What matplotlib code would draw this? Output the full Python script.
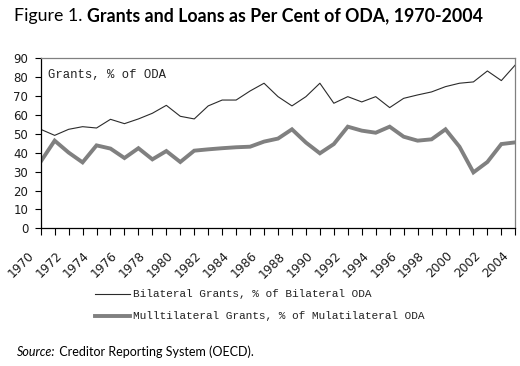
import matplotlib
matplotlib.use("Agg")
import matplotlib.pyplot as plt
import matplotlib.transforms as mtransforms
from matplotlib.lines import Line2D

years = list(range(1970, 2005))
bilateral = [52.4, 49.2, 52.4, 53.8, 53.1, 57.7, 55.4, 57.9, 60.9, 65.1,
             59.3, 57.9, 64.8, 67.9, 67.9, 72.7, 76.8, 69.7, 64.8, 69.7,
             76.8, 66.2, 69.7, 66.9, 69.7, 63.9, 68.8, 70.6, 72.2, 75.0,
             76.8, 77.5, 83.3, 78.2, 86.5]
multilateral = [35.3, 46.4, 40.1, 34.9, 43.9, 42.2, 37.2, 42.4, 36.5, 40.9,
                35.1, 41.1, 41.8, 42.4, 42.9, 43.2, 45.9, 47.5, 52.4, 45.4,
                39.7, 44.6, 53.8, 51.7, 50.6, 53.8, 48.5, 46.4, 47.1, 52.4,
                43.2, 29.6, 35.1, 44.6, 45.5]
yticks = list(range(0, 91, 10))
label_years = years[::2]
label_bi = "Bilateral Grants, % of Bilateral ODA"
label_multi = "Mulltilateral Grants, % of Mulatilateral ODA"
inner_label = "Grants, % of ODA"
title_a = "Figure 1. "
title_b = "Grants and Loans as Per Cent of ODA, 1970-2004"
source_a = "Source:"
source_b = " Creditor Reporting System (OECD)."

W, H = 520, 366
fig = plt.figure(figsize=(W / 100, H / 100), dpi=100)
ax = fig.add_axes([40.7 / W, 1 - 228.3 / H, (515.3 - 40.7) / W, (228.3 - 58.3) / H])

mono = "Liberation Mono"
sans = "DejaVu Sans"
bi_style = dict(color="#2b2b2b", lw=0.8)
multi_style = dict(color="#808080", lw=2.8, solid_joinstyle="miter")
ax.plot(years, bilateral, **bi_style)
ax.plot(years, multilateral, **multi_style)

ax.set_xlim(1970, 2004)
ax.set_ylim(0, 90)
ax.set_yticks(yticks)
ax.set_yticklabels([str(v) for v in yticks], fontfamily=sans, fontsize=8.5, color="#1a1a1a")
ax.set_xticks(years)
ax.set_xticklabels([])

offset = mtransforms.ScaledTranslation(-9 / 100, -25.7 / 100, fig.dpi_scale_trans)
for y in label_years:
    ax.text(y, 0, str(y), transform=ax.get_xaxis_transform() + offset,
            fontfamily=sans, fontsize=8.8, color="#1a1a1a", rotation=45,
            ha="right", va="center", rotation_mode="anchor", clip_on=False)

ax.tick_params(axis="x", direction="out", length=5, width=0.8, pad=2)
ax.tick_params(axis="y", direction="out", length=4, width=0.8, pad=5)
ax.spines["left"].set_color("black")
ax.spines["bottom"].set_color("black")
ax.spines["top"].set_color("#808080")
ax.spines["right"].set_color("#808080")
for s in ax.spines.values():
    s.set_linewidth(0.9)

ax.text(48 / W, 1 - 75 / H, inner_label, transform=fig.transFigure, fontfamily=mono,
        fontsize=8.8, color="#222222", va="center", ha="left")

# legend below the axes
for ypix, style, txt in [(294, bi_style, label_bi), (316, multi_style, label_multi)]:
    yf = 1 - ypix / H
    fig.add_artist(Line2D([95 / W, 130 / W], [yf, yf], transform=fig.transFigure, **style))
    fig.text(133 / W, yf, txt, fontfamily=mono, fontsize=8, color="#222222",
             va="center", ha="left")

fig.canvas.draw()
r = fig.canvas.get_renderer()
ta = fig.text(14 / W, 1 - 16 / H, title_a, fontfamily="Lato", fontsize=12.8, va="center", ha="left")
bb = ta.get_window_extent(r)
fig.text(bb.x1 / W, 1 - 16 / H, title_b, fontfamily="Lato", fontsize=12.8,
         fontweight="bold", va="center", ha="left")

sa = fig.text(17 / W, 1 - 352 / H, source_a, fontfamily="Lato", fontsize=9,
              style="italic", va="center", ha="left")
bb2 = sa.get_window_extent(r)
fig.text(bb2.x1 / W, 1 - 352 / H, source_b, fontfamily="Lato", fontsize=9,
         va="center", ha="left")

fig.savefig("out.png", dpi=100)
